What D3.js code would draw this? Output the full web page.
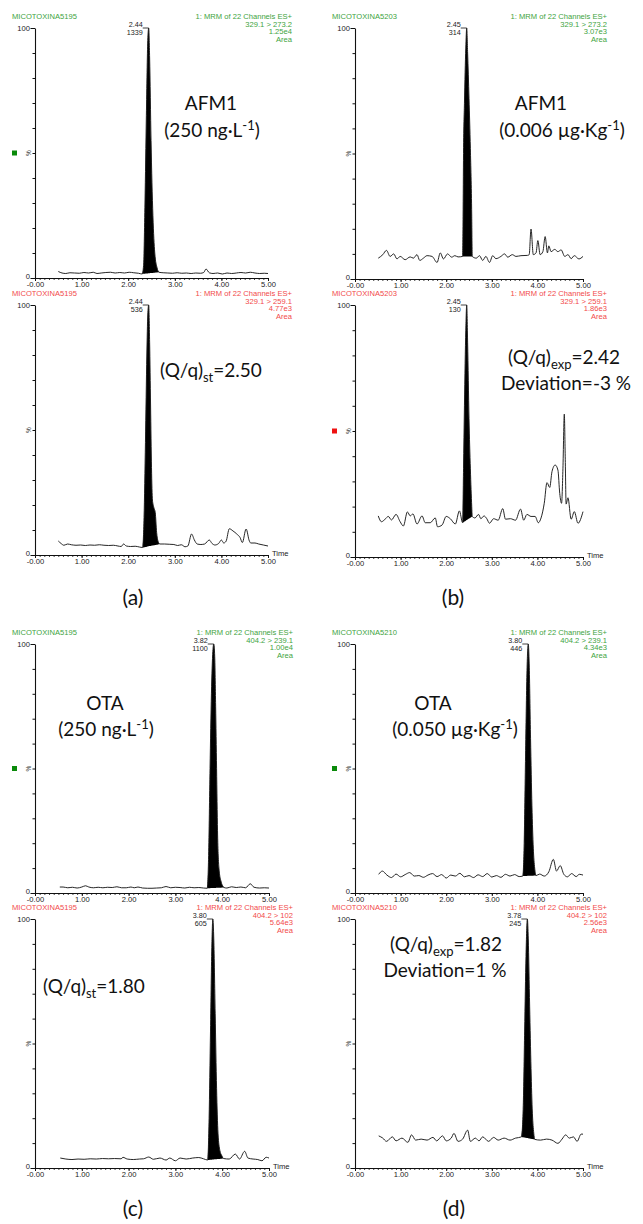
<!DOCTYPE html>
<html>
<head>
<meta charset="utf-8">
<script src="https://cdn.jsdelivr.net/npm/d3@7"></script>
<style>
  html, body { margin: 0; padding: 0; background: #fff; }
  svg { display: block; }
  .hdr { font-family: "Liberation Sans", Arial, sans-serif; font-size: 7.6px; }
  .axis text { font-family: "Liberation Sans", Arial, sans-serif; font-size: 7.6px; fill: #222; }
  .axis line, .axis path { stroke: #111; }
  .apex { font-family: "Liberation Sans", Arial, sans-serif; font-size: 7.2px; fill: #222; }
  .big { font-family: Lato, "Open Sans", sans-serif; font-size: 19px; fill: #111; }
  .plabel { font-family: Lato, "Open Sans", sans-serif; font-size: 21px; fill: #111; }
</style>
</head>
<body>
<svg id="fig" width="643" height="1224"></svg>
<script>
// ---------- retention-time axis ----------
const timeMajor = [0, 1, 2, 3, 4, 5];
const timeMajorLabels = ["-0.00", "1.00", "2.00", "3.00", "4.00", "5.00"];
const pctTicks = [0, 10, 20, 30, 40, 50, 60, 70, 80, 90, 100];

// ---------- chromatogram traces: [time (min), relative intensity (%)] ----------
// (a) AFM1 standard, quantifier 329.1 > 273.2
const traceA1 = [[0.50,2.6],[0.58,2.0],[0.66,1.8],[0.75,2.1],[0.85,2.0],[0.95,1.9],[1.05,2.2],[1.15,2.0],[1.25,2.3],[1.33,1.8],[1.42,2.0],[1.52,2.2],[1.62,2.3],[1.72,2.0],[1.82,2.2],[1.92,2.0],[2.02,2.3],[2.12,2.1],[2.22,1.9],[2.30,1.6],[2.33,5],[2.36,30],[2.39,65],[2.42,95],[2.44,100],[2.46,88],[2.49,55],[2.53,25],[2.57,10],[2.62,4],[2.66,2.3],[2.75,2.1],[2.85,2.0],[2.95,1.9],[3.05,2.1],[3.15,1.9],[3.25,2.0],[3.35,1.8],[3.45,2.0],[3.55,1.9],[3.62,2.2],[3.67,3.6],[3.74,2.1],[3.82,1.8],[3.92,2.0],[4.02,1.6],[4.12,2.0],[4.22,1.8],[4.32,2.0],[4.42,2.2],[4.52,2.0],[4.62,2.3],[4.72,2.0],[4.82,1.8],[4.92,1.9],[5.00,1.8]];
// (a) AFM1 standard, qualifier 329.1 > 259.1
const traceA2 = [[0.50,5.6],[0.56,4.6],[0.62,3.9],[0.70,4.4],[0.78,4.1],[0.88,3.9],[0.98,4.0],[1.08,3.8],[1.18,4.0],[1.28,3.9],[1.38,4.1],[1.48,3.9],[1.58,3.8],[1.68,3.9],[1.78,3.6],[1.85,3.4],[1.90,4.4],[1.96,3.6],[2.05,3.4],[2.15,3.5],[2.24,3.2],[2.31,3.0],[2.34,15],[2.37,45],[2.40,80],[2.42,96],[2.44,100],[2.46,85],[2.48,60],[2.50,35],[2.52,22],[2.55,19],[2.58,17],[2.61,9],[2.64,5.5],[2.68,4.4],[2.78,4.4],[2.88,4.3],[2.98,4.2],[3.06,3.8],[3.14,4.1],[3.22,3.3],[3.28,3.6],[3.36,8.4],[3.42,6.0],[3.48,4.4],[3.56,4.2],[3.64,4.4],[3.74,6.0],[3.80,4.6],[3.86,4.0],[3.94,4.6],[4.00,6.0],[4.05,4.8],[4.10,5.5],[4.17,10.5],[4.25,9.6],[4.33,8.4],[4.40,7.0],[4.45,5.0],[4.53,10.4],[4.60,5.6],[4.63,4.8],[4.72,4.8],[4.80,4.4],[4.90,4.0],[5.00,3.6]];
// (b) AFM1 in sample, quantifier
const traceB1 = [[0.51,8.3],[0.61,9.7],[0.69,11.4],[0.77,9.0],[0.85,10.0],[0.92,8.0],[0.99,9.0],[1.10,7.7],[1.21,8.8],[1.28,8.3],[1.36,9.7],[1.42,7.4],[1.50,8.3],[1.58,9.3],[1.69,9.0],[1.80,6.6],[1.87,10.4],[1.94,8.0],[2.03,10.0],[2.12,8.7],[2.19,9.3],[2.26,8.8],[2.36,9.0],[2.37,25],[2.38,50],[2.40,70],[2.43,92],[2.45,100],[2.47,90],[2.50,72],[2.53,52],[2.56,25],[2.57,9.0],[2.66,8.3],[2.73,9.3],[2.80,7.4],[2.87,9.0],[2.95,6.6],[3.02,9.3],[3.09,8.1],[3.20,9.0],[3.28,10.0],[3.35,8.7],[3.45,9.7],[3.53,9.0],[3.64,9.3],[3.78,9.4],[3.82,9.7],[3.86,19.9],[3.91,9.7],[3.97,10.4],[4.01,15.3],[4.06,9.7],[4.12,10.9],[4.17,16.9],[4.22,10.4],[4.25,13.2],[4.30,10.9],[4.38,11.8],[4.45,10.9],[4.52,11.6],[4.60,9.0],[4.67,9.7],[4.74,8.1],[4.81,9.3],[4.91,8.0],[5.00,9.0]];
// (b) AFM1 in sample, qualifier
const traceB2 = [[0.51,16.3],[0.58,14.0],[0.66,15.0],[0.73,16.1],[0.80,14.7],[0.90,16.9],[0.99,14.0],[1.06,12.3],[1.15,17.9],[1.21,16.3],[1.27,17.1],[1.36,13.1],[1.47,16.3],[1.54,13.6],[1.65,13.6],[1.76,15.5],[1.81,12.0],[1.91,12.7],[2.00,16.1],[2.09,15.2],[2.20,13.1],[2.29,18.3],[2.36,13.6],[2.38,35],[2.40,60],[2.43,90],[2.45,100],[2.47,85],[2.50,55],[2.53,35],[2.56,20],[2.57,16.1],[2.63,15.5],[2.71,16.9],[2.76,15.2],[2.83,16.3],[2.89,15.2],[2.95,13.4],[3.04,15.2],[3.14,14.6],[3.24,19.2],[3.30,15.0],[3.41,15.2],[3.52,14.6],[3.63,19.0],[3.70,14.6],[3.77,16.9],[3.86,16.1],[3.95,16.1],[4.02,13.6],[4.08,15.5],[4.15,21.3],[4.21,29.5],[4.27,27.6],[4.32,33.9],[4.39,36.5],[4.45,34.5],[4.49,25.2],[4.53,21.3],[4.56,35],[4.59,56.7],[4.61,40],[4.63,21.0],[4.67,23.5],[4.74,15.0],[4.81,18.0],[4.89,13.4],[5.00,18.0]];
// (c) OTA standard, quantifier 404.2 > 239.1
const traceC1 = [[0.53,2.4],[0.60,2.4],[0.70,2.1],[0.80,2.3],[0.90,2.0],[1.00,2.4],[1.08,2.9],[1.15,2.4],[1.25,2.1],[1.35,2.3],[1.45,2.1],[1.55,2.3],[1.65,2.2],[1.75,2.5],[1.85,2.1],[1.95,2.1],[2.05,2.4],[2.12,2.1],[2.20,2.4],[2.30,2.0],[2.40,1.9],[2.50,1.9],[2.60,2.0],[2.70,2.1],[2.80,2.6],[2.90,2.1],[3.00,2.3],[3.10,2.2],[3.20,2.0],[3.30,2.3],[3.40,2.1],[3.50,2.2],[3.60,2.0],[3.68,1.9],[3.71,15],[3.74,50],[3.77,80],[3.80,97],[3.82,100],[3.84,95],[3.86,75],[3.88,50],[3.90,25],[3.93,10],[3.97,5],[4.04,2.2],[4.10,2.0],[4.20,2.5],[4.30,2.2],[4.40,2.4],[4.50,2.1],[4.60,3.7],[4.68,2.3],[4.80,2.0],[4.90,2.1],[5.00,2.0]];
// (c) OTA standard, qualifier 404.2 > 102
const traceC2 = [[0.54,4.0],[0.66,3.6],[0.79,3.4],[0.92,3.6],[1.05,3.5],[1.18,3.7],[1.31,3.6],[1.44,3.8],[1.57,3.7],[1.70,3.8],[1.84,3.7],[1.88,4.3],[1.97,3.6],[2.10,3.4],[2.23,3.6],[2.32,3.7],[2.43,4.4],[2.53,3.5],[2.67,4.0],[2.80,3.2],[2.88,4.0],[3.00,2.9],[3.10,4.0],[3.23,3.6],[3.37,4.0],[3.50,4.2],[3.60,3.7],[3.69,3.2],[3.72,20],[3.75,55],[3.78,90],[3.80,100],[3.82,92],[3.85,62],[3.88,32],[3.91,14],[3.95,7],[3.99,5],[4.03,3.8],[4.15,3.6],[4.28,5.6],[4.37,3.6],[4.48,6.7],[4.55,4.0],[4.66,3.6],[4.76,3.4],[4.85,2.9],[4.94,4.3],[5.00,4.0]];
// (d) OTA in sample, quantifier
const traceD1 = [[0.52,7.5],[0.60,8.8],[0.70,7.2],[0.80,6.2],[0.90,7.6],[1.00,6.5],[1.10,7.4],[1.20,8.2],[1.30,6.8],[1.40,7.0],[1.50,6.3],[1.60,7.2],[1.70,7.8],[1.80,6.6],[1.90,7.4],[2.00,6.0],[2.10,7.2],[2.20,6.8],[2.30,7.9],[2.40,6.5],[2.50,7.0],[2.60,6.2],[2.70,7.3],[2.80,6.6],[2.90,7.8],[3.00,6.4],[3.10,7.0],[3.20,6.3],[3.30,7.5],[3.40,6.8],[3.50,7.4],[3.60,6.6],[3.68,6.8],[3.71,20],[3.74,55],[3.77,88],[3.80,100],[3.82,92],[3.85,62],[3.88,35],[3.91,18],[3.94,10],[3.97,7.0],[4.05,7.6],[4.15,6.8],[4.25,8.5],[4.35,13.5],[4.42,8.8],[4.50,11.0],[4.58,7.5],[4.66,6.5],[4.75,7.8],[4.85,6.6],[4.92,7.5],[5.00,7.2]];
// (d) OTA in sample, qualifier
const traceD2 = [[0.52,12.9],[0.61,12.0],[0.69,10.7],[0.82,12.5],[0.90,10.9],[1.03,12.0],[1.16,10.3],[1.24,13.3],[1.33,11.2],[1.45,11.6],[1.58,11.2],[1.71,12.3],[1.79,10.9],[1.92,12.9],[2.00,10.9],[2.11,12.0],[2.17,13.9],[2.26,10.7],[2.36,11.6],[2.47,15.2],[2.53,10.7],[2.64,12.0],[2.72,10.9],[2.80,12.5],[2.93,10.7],[3.04,12.3],[3.14,11.2],[3.27,12.0],[3.40,11.2],[3.52,12.0],[3.65,12.5],[3.69,25],[3.72,55],[3.75,85],[3.78,100],[3.80,92],[3.83,65],[3.86,40],[3.89,22],[3.92,14],[3.94,11.5],[4.07,11.2],[4.20,11.6],[4.32,11.2],[4.45,9.9],[4.54,11.6],[4.62,13.3],[4.70,12.0],[4.79,12.5],[4.87,10.7],[4.96,13.6],[5.00,13.6]];

// integration windows [start, end] (min)
const peakA1 = [2.30, 2.66], peakA2 = [2.31, 2.68];
const peakB1 = [2.36, 2.57], peakB2 = [2.36, 2.57];
const peakC1 = [3.68, 4.04], peakC2 = [3.69, 4.03];
const peakD1 = [3.68, 3.97], peakD2 = [3.65, 3.94];

// apex annotations [retention time, height]
const apexA1 = [2.44, "1339"], apexA2 = [2.44, "536"];
const apexB1 = [2.45, "314"],  apexB2 = [2.45, "130"];
const apexC1 = [3.82, "1100"], apexC2 = [3.80, "605"];
const apexD1 = [3.80, "446"],  apexD2 = [3.78, "245"];

// sample names and channel headers
const sampleNames = ["MICOTOXINA5195", "MICOTOXINA5203", "MICOTOXINA5195", "MICOTOXINA5210"];
const headA1 = ["1: MRM of 22 Channels ES+", "329.1 > 273.2", "1.25e4", "Area"];
const headA2 = ["1: MRM of 22 Channels ES+", "329.1 > 259.1", "4.77e3", "Area"];
const headB1 = ["1: MRM of 22 Channels ES+", "329.1 > 273.2", "3.07e3", "Area"];
const headB2 = ["1: MRM of 22 Channels ES+", "329.1 > 259.1", "1.86e3", "Area"];
const headC1 = ["1: MRM of 22 Channels ES+", "404.2 > 239.1", "1.00e4", "Area"];
const headC2 = ["1: MRM of 22 Channels ES+", "404.2 > 102", "5.64e3", "Area"];
const headD1 = ["1: MRM of 22 Channels ES+", "404.2 > 239.1", "4.34e3", "Area"];
const headD2 = ["1: MRM of 22 Channels ES+", "404.2 > 102", "2.56e3", "Area"];

// ---------- drawing ----------
const svg = d3.select("#fig");
const GREEN = "#3ea33e", RED = "#f24a4a";

function drawChart(c) {
  const g = svg.append("g");
  const x = d3.scaleLinear().domain([0, 5]).range([c.x0, c.x1]);
  const y = d3.scaleLinear().domain([0, 100]).range([c.yb, c.yt]);

  // intensity axis: minor ticks every 10 %, labelled 0 and 100
  g.append("g").attr("class", "axis")
    .attr("transform", `translate(${c.x0},0)`)
    .call(d3.axisLeft(y).tickValues(pctTicks).tickSizeInner(2.5).tickSizeOuter(0).tickFormat(""))
    .call(a => a.select(".domain").attr("stroke-width", 1.1));
  g.append("g").attr("class", "axis")
    .attr("transform", `translate(${c.x0},0)`)
    .call(d3.axisLeft(y).tickValues([0, 100]).tickSize(4.5).tickPadding(0.5).tickFormat(d => String(d)))
    .call(a => a.select(".domain").remove())
    .call(a => a.selectAll(".tick text").attr("y", d => d === 0 ? -1.8 : 0));
  g.append("text").attr("class", "hdr")
    .attr("transform", `translate(${c.x0 - 4},${y(50)}) rotate(-90)`)
    .attr("text-anchor", "middle").attr("fill", "#222").style("font-size", "6.5px")
    .text("%");

  // time axis
  g.append("g").attr("class", "axis")
    .attr("transform", `translate(0,${c.yb})`)
    .call(d3.axisBottom(x).tickValues(d3.range(0, 50.5, 1).map(v => v / 10)).tickSizeInner(1.8).tickSizeOuter(0).tickFormat(""));
  g.append("g").attr("class", "axis")
    .attr("transform", `translate(0,${c.yb})`)
    .call(d3.axisBottom(x).tickValues(timeMajor).tickSize(3).tickPadding(0.8).tickFormat((d, i) => timeMajorLabels[i]))
    .call(a => a.select(".domain").remove());
  if (c.timeLabel) {
    g.append("text").attr("class", "hdr").attr("fill", "#222")
      .attr("x", c.x1 + 4).attr("y", c.yb + 1.2).text("Time");
  }

  // headers
  g.append("text").attr("class", "hdr").attr("fill", c.color)
    .attr("x", c.x0 - 23).attr("y", c.yt - 9).text(c.sample);
  g.selectAll(null).data(c.head).join("text").attr("class", "hdr")
    .attr("fill", c.color).attr("text-anchor", "end")
    .attr("x", c.x1 + 24).attr("y", (d, i) => c.yt - 9 + i * 7.6).text(d => d);

  if (c.marker) {
    g.append("rect").attr("x", c.x0 - 23).attr("y", y(50) - 2.5)
      .attr("width", 5).attr("height", 5).attr("fill", c.marker);
  }

  // trace and integrated peak
  const trace = c.trace;
  const [ps, pe] = c.peak;
  const inPeak = trace.filter(d => d[0] >= ps - 1e-9 && d[0] <= pe + 1e-9);
  const s = inPeak[0], e = inPeak[inPeak.length - 1];
  const base = t => s[1] + (e[1] - s[1]) * (t - s[0]) / (e[0] - s[0]);
  g.append("path").datum(inPeak)
    .attr("fill", "#000")
    .attr("d", d3.area().curve(d3.curveMonotoneX)
      .x(d => x(d[0])).y0(d => y(base(d[0]))).y1(d => y(d[1])));
  g.append("path").datum(trace)
    .attr("fill", "none").attr("stroke", "#1a1a1a").attr("stroke-width", 0.95)
    .attr("d", d3.line().curve(d3.curveMonotoneX).x(d => x(d[0])).y(d => y(d[1])));

  // apex annotation
  const ax = x(c.apex[0]), ay = y(100);
  g.append("line").attr("x1", ax - 6).attr("x2", ax).attr("y1", ay).attr("y2", ay)
    .attr("stroke", "#111").attr("stroke-width", 0.8);
  g.append("text").attr("class", "apex").attr("text-anchor", "end")
    .attr("x", ax - 6).attr("y", ay - 0.6).text(c.apex[0].toFixed(2));
  g.append("text").attr("class", "apex").attr("text-anchor", "end")
    .attr("x", ax - 6).attr("y", ay + 6.6).text(c.apex[1]);
}

// rich text with sub/superscripts: parts = [[text, "sup"|"sub"|undefined], ...]
function richText(x, y, anchor, parts) {
  const t = svg.append("text").attr("class", "big")
    .attr("x", x).attr("y", y).attr("text-anchor", anchor);
  let shift = 0;
  parts.forEach(([txt, kind]) => {
    const target = kind === "sup" ? -7 : kind === "sub" ? 5 : 0;
    t.append("tspan").attr("dy", target - shift)
      .style("font-size", kind ? "13px" : null).text(txt);
    shift = target;
  });
}

const charts = [
  { x0: 35,  x1: 268, yt: 28,  yb: 278,  color: GREEN, sample: sampleNames[0], head: headA1, trace: traceA1, peak: peakA1, apex: apexA1, marker: "#0a8a0a" },
  { x0: 35,  x1: 268, yt: 305, yb: 555,  color: RED,   sample: sampleNames[0], head: headA2, trace: traceA2, peak: peakA2, apex: apexA2, timeLabel: true },
  { x0: 355, x1: 583, yt: 28,  yb: 279,  color: GREEN, sample: sampleNames[1], head: headB1, trace: traceB1, peak: peakB1, apex: apexB1 },
  { x0: 355, x1: 583, yt: 305, yb: 557,  color: RED,   sample: sampleNames[1], head: headB2, trace: traceB2, peak: peakB2, apex: apexB2, timeLabel: true, marker: "#ee1111" },
  { x0: 35,  x1: 269, yt: 644, yb: 893,  color: GREEN, sample: sampleNames[2], head: headC1, trace: traceC1, peak: peakC1, apex: apexC1, marker: "#0a8a0a" },
  { x0: 35,  x1: 269, yt: 919, yb: 1168, color: RED,   sample: sampleNames[2], head: headC2, trace: traceC2, peak: peakC2, apex: apexC2, timeLabel: true },
  { x0: 355, x1: 583, yt: 644, yb: 893,  color: GREEN, sample: sampleNames[3], head: headD1, trace: traceD1, peak: peakD1, apex: apexD1, marker: "#0a8a0a" },
  { x0: 355, x1: 583, yt: 919, yb: 1168, color: RED,   sample: sampleNames[3], head: headD2, trace: traceD2, peak: peakD2, apex: apexD2, timeLabel: true }
];
charts.forEach(drawChart);

// compound / ratio annotations
richText(211, 110, "middle", [["AFM1"]]);
richText(212, 137, "middle", [["(250 ng·L"], ["-1", "sup"], [")"]]);
richText(160, 377, "start",  [["(Q/q)"], ["st", "sub"], ["=2.50"]]);
richText(541, 110, "middle", [["AFM1"]]);
richText(562, 137, "middle", [["(0.006 µg·Kg"], ["-1", "sup"], [")"]]);
richText(564, 364, "middle", [["(Q/q)"], ["exp", "sub"], ["=2.42"]]);
richText(566, 390, "middle", [["Deviation=-3 %"]]);
richText(105, 710, "middle", [["OTA"]]);
richText(106, 736, "middle", [["(250 ng·L"], ["-1", "sup"], [")"]]);
richText(43, 993, "start",   [["(Q/q)"], ["st", "sub"], ["=1.80"]]);
richText(433, 710, "middle", [["OTA"]]);
richText(455, 736, "middle", [["(0.050 µg·Kg"], ["-1", "sup"], [")"]]);
richText(446, 951, "middle", [["(Q/q)"], ["exp", "sub"], ["=1.82"]]);
richText(445, 977, "middle", [["Deviation=1 %"]]);

// panel letters
const panelLetters = ["(a)", "(b)", "(c)", "(d)"];
const letterPos = [[133, 605], [453, 605], [133, 1216], [454, 1216]];
panelLetters.forEach((l, i) => {
  svg.append("text").attr("class", "plabel").attr("text-anchor", "middle")
    .attr("x", letterPos[i][0]).attr("y", letterPos[i][1]).text(l);
});
</script>
</body>
</html>
